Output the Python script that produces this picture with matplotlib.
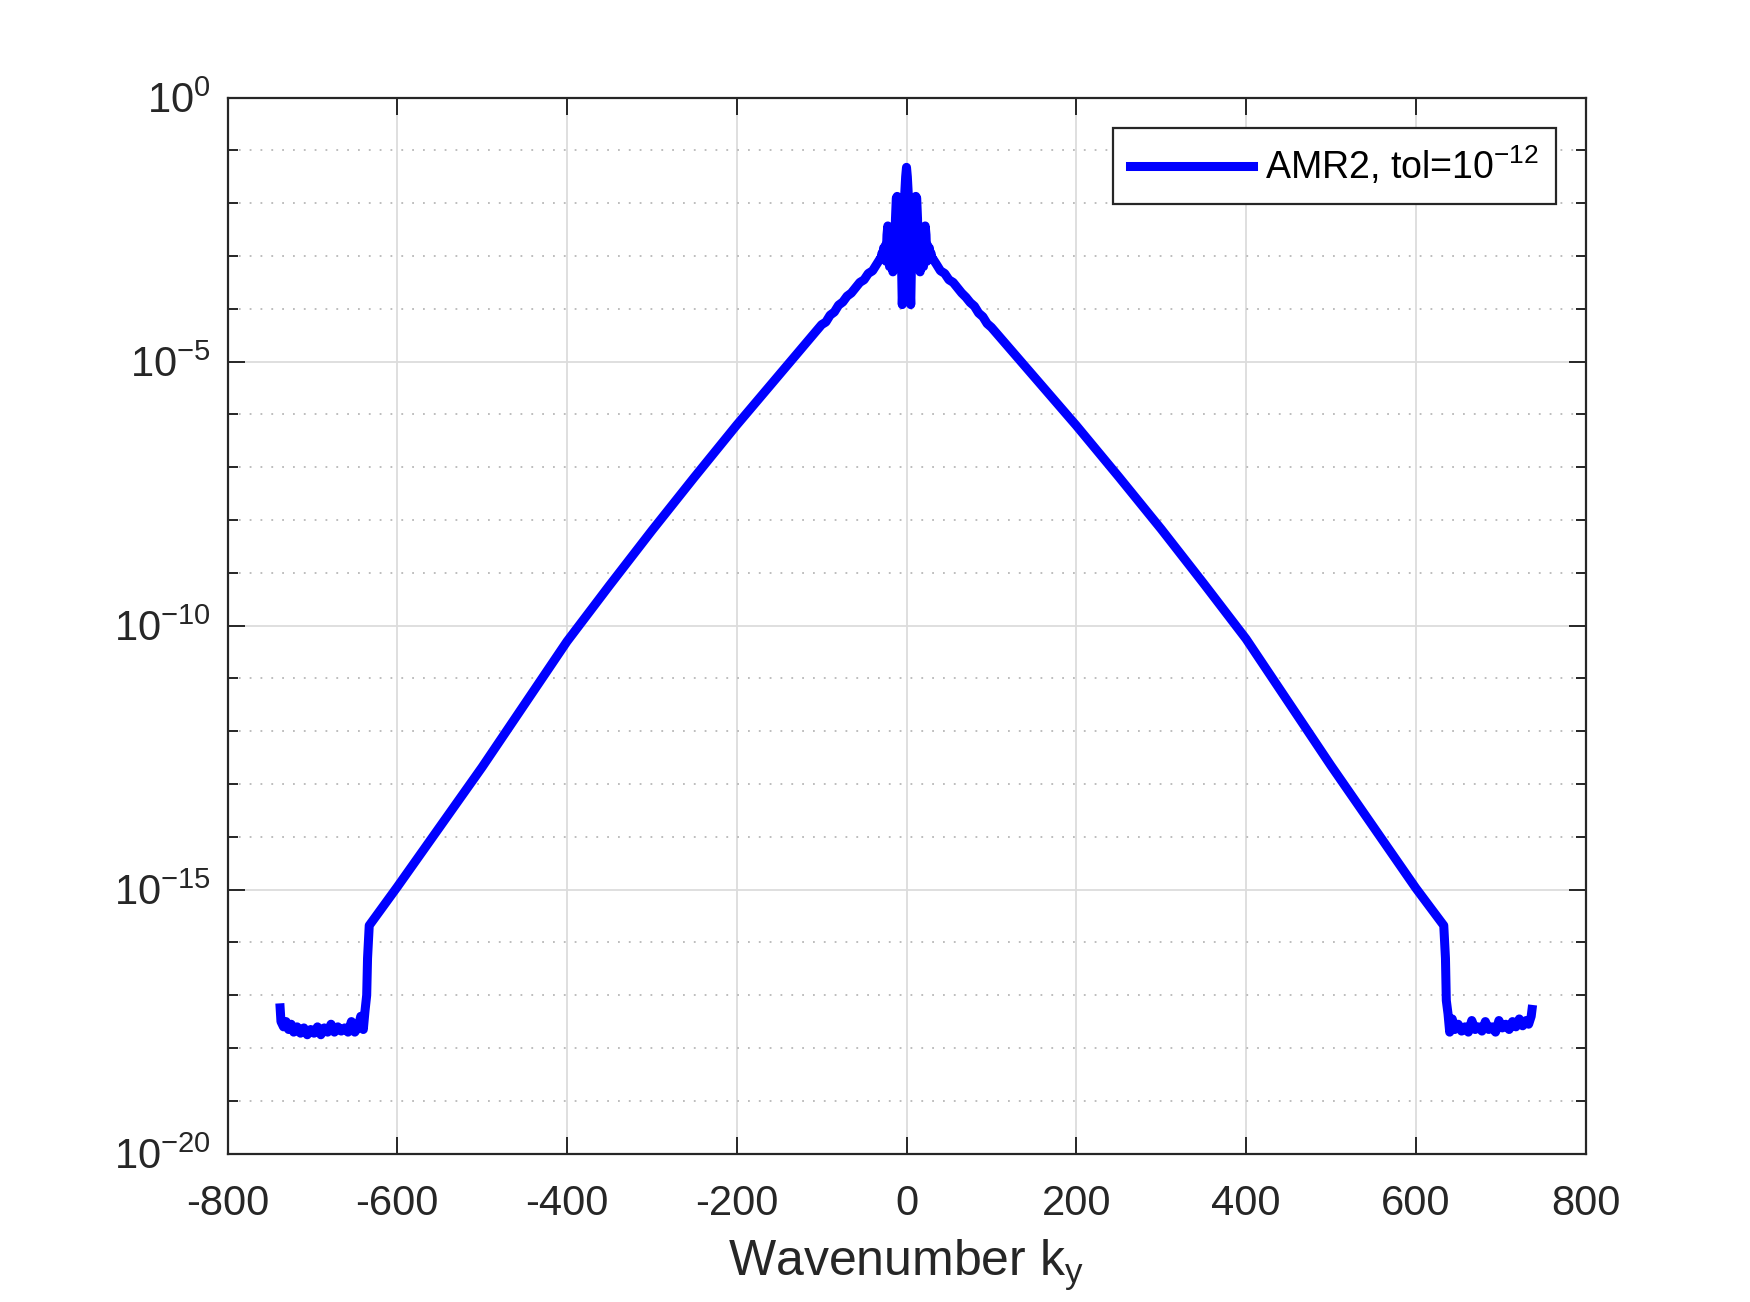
import numpy as np
import matplotlib
matplotlib.use("Agg")
import matplotlib.pyplot as plt

plt.rcParams['font.family'] = ['Liberation Sans', 'DejaVu Sans']
plt.rcParams['mathtext.fontset'] = 'custom'
plt.rcParams['mathtext.rm'] = 'Liberation Sans'
plt.rcParams['axes.unicode_minus'] = False

# spectrum: wavenumber k_y and log10 of amplitude
left_floor_k = [-738, -737, -734, -731, -728, -725, -722, -718, -714, -710, -706, -702,
                -698, -694, -690, -686, -682, -678, -674, -670, -666, -662, -658, -654,
                -650, -646, -643, -640, -638, -636, -635]
left_floor_v = [-17.24, -17.5, -17.6, -17.5, -17.65, -17.55, -17.7, -17.6, -17.72, -17.62,
                -17.75, -17.65, -17.72, -17.6, -17.75, -17.62, -17.7, -17.55, -17.7, -17.6,
                -17.68, -17.62, -17.7, -17.5, -17.7, -17.6, -17.4, -17.65, -17.3, -17.0, -16.3]

left_slope_k = [-633, -600, -500, -400, -350, -300, -250, -200, -150, -100,
                -95, -90, -85, -80, -75, -70, -65, -60, -55, -50, -45, -40, -35, -31]
left_slope_v = [-15.68, -14.95, -12.68, -10.3, -9.24, -8.2, -7.19, -6.2, -5.25, -4.3,
                -4.25, -4.12, -4.06, -3.93, -3.87, -3.76, -3.7, -3.6, -3.5, -3.45,
                -3.33, -3.28, -3.15, -3.05]

center_k = list(range(-30, 31))
center_v = [-3.05, -2.95, -3.0, -2.85, -2.95, -2.8, -3.1, -2.6, -2.43, -2.7,
            -3.2, -2.8, -3.1, -2.75, -3.3, -2.7, -3.1, -2.3, -1.9, -1.87,
            -2.2, -2.9, -2.6, -3.2, -3.0, -3.92, -3.5, -2.5, -1.8, -1.5,
            -1.32,
            -1.5, -1.8, -2.5, -3.5, -3.92, -3.0, -3.2, -2.6, -2.9, -2.2,
            -1.87, -1.9, -2.3, -3.1, -2.7, -3.3, -2.75, -3.1, -2.8, -3.2,
            -2.7, -2.43, -2.6, -3.1, -2.8, -2.95, -2.85, -3.0, -2.95, -3.05]

right_slope_k = [31, 35, 40, 45, 50, 55, 60, 65, 70, 75, 80, 85, 90, 95,
                 100, 150, 200, 250, 300, 350, 400, 500, 600, 633]
right_slope_v = [-3.05, -3.15, -3.28, -3.33, -3.45, -3.5, -3.6, -3.7, -3.78, -3.88,
                 -3.95, -4.08, -4.15, -4.28,
                 -4.35, -5.28, -6.21, -7.18, -8.17, -9.2, -10.25, -12.65, -14.97, -15.68]

right_floor_k = [635, 636, 638, 640, 643, 646, 650, 654, 658, 662, 666, 670, 674, 678,
                 682, 686, 690, 694, 698, 702, 706, 710, 714, 718, 722, 726, 730, 733,
                 735, 736, 737]
right_floor_v = [-16.3, -17.1, -17.35, -17.7, -17.45, -17.65, -17.55, -17.68, -17.6, -17.7,
                 -17.48, -17.65, -17.6, -17.68, -17.5, -17.65, -17.6, -17.7, -17.48, -17.62,
                 -17.55, -17.65, -17.5, -17.6, -17.45, -17.58, -17.48, -17.55, -17.45, -17.4,
                 -17.27]

k = np.array(left_floor_k + left_slope_k + center_k + right_slope_k + right_floor_k)
amp = 10.0 ** np.array(left_floor_v + left_slope_v + center_v + right_slope_v + right_floor_v)

fig = plt.figure(figsize=(17.5, 13.02), dpi=100)
ax = fig.add_axes([0.13, 0.114, 0.776, 0.811])

ax.semilogy(k, amp, color='#0000ff', lw=6.5, solid_joinstyle='round',
            label=r'AMR2, tol=$\mathregular{10^{-12}}$')

ax.set_xlim(-800, 800)
ax.set_ylim(1e-20, 1)
ax.set_xticks(np.arange(-800, 801, 200))
major = 10.0 ** np.arange(-20, 1, 5)
ax.set_yticks(major)
ax.set_yticklabels([r'$\mathregular{10^{%d}}$' % e for e in range(-20, 1, 5)])
ax.set_yticks(10.0 ** np.arange(-20, 1), minor=True)
ax.yaxis.set_minor_formatter(matplotlib.ticker.NullFormatter())

ax.grid(True, which='major', color='#dcdcdc', lw=1.3, ls='-')
ax.grid(True, which='minor', axis='y', color='#b8b8b8', lw=1.3, ls=(0, (1, 5)))
ax.set_axisbelow(True)

for s in ax.spines.values():
    s.set_color('#262626')
    s.set_linewidth(1.6)
ax.tick_params(which='both', direction='in', top=True, right=True, colors='#262626',
               labelsize=30, width=1.4)
ax.tick_params(which='major', length=12, pad=22)
ax.tick_params(which='minor', length=7)
ax.tick_params(axis='y', which='major', pad=12)

ax.set_xlabel(r'Wavenumber k$_\mathregular{y}$', fontsize=36, color='#262626', labelpad=10)

leg = ax.legend(loc='upper right', fontsize=27, handlelength=3.3, handletextpad=0.3,
                fancybox=False, framealpha=1, edgecolor='#262626', borderaxespad=0.8,
                borderpad=0.45)
leg.get_frame().set_linewidth(1.6)

fig.savefig('out.png', dpi=100)
